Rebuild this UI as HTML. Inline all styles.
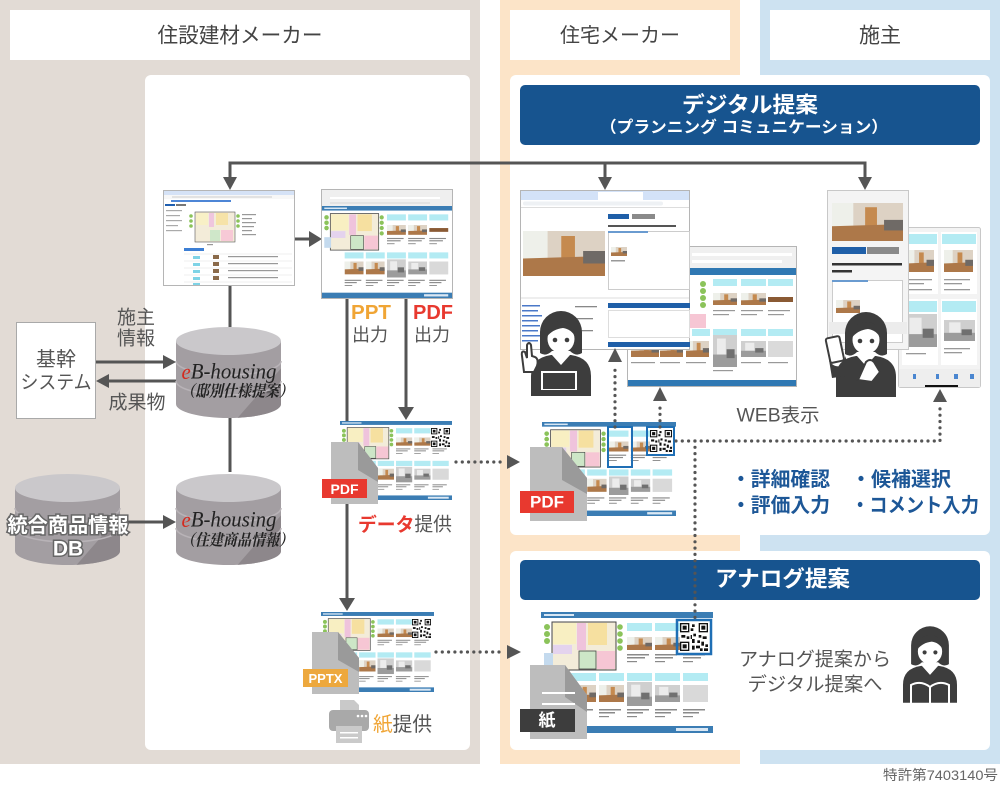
<!DOCTYPE html>
<html><head><meta charset="utf-8">
<style>
html,body{margin:0;padding:0;background:#fff;}
body{width:1000px;height:785px;overflow:hidden;}
svg{display:block;}
.t{font-family:"Liberation Sans","Noto Sans CJK JP",sans-serif;}
.s{font-family:"Liberation Serif","Noto Serif CJK SC",serif;font-style:italic;}
</style></head><body>
<svg width="1000" height="785" viewBox="0 0 1000 785" xmlns="http://www.w3.org/2000/svg">
<defs>
<symbol id="photo" viewBox="0 0 30 18" preserveAspectRatio="none">
<rect width="30" height="18" fill="#ddd2c4"/>
<rect x="0" y="0" width="9" height="11" fill="#eef0ea"/>
<rect x="14" y="2" width="5" height="9" fill="#c58a4f"/>
<polygon points="0,11 30,10 30,18 0,18" fill="#ad7849"/>
<rect x="22" y="8" width="8" height="5" fill="#6f6a66"/>
</symbol>
<symbol id="photoG" viewBox="0 0 30 18" preserveAspectRatio="none">
<rect width="30" height="18" fill="#cfcfcf"/>
<rect x="5" y="2" width="11" height="9" fill="#ececec"/>
<rect x="0" y="11" width="30" height="7" fill="#9c9c9c"/>
<rect x="17" y="8" width="10" height="5" fill="#707070"/>
</symbol>
<symbol id="qr" viewBox="0 0 21 21">
<rect width="21" height="21" fill="#fff"/>
<g fill="#111">
<rect x="0" y="0" width="7" height="7"/><rect x="14" y="0" width="7" height="7"/><rect x="0" y="14" width="7" height="7"/>
</g>
<g fill="#fff"><rect x="1" y="1" width="5" height="5"/><rect x="15" y="1" width="5" height="5"/><rect x="1" y="15" width="5" height="5"/></g>
<g fill="#111">
<rect x="2" y="2" width="3" height="3"/><rect x="16" y="2" width="3" height="3"/><rect x="2" y="16" width="3" height="3"/>
<rect x="9" y="1" width="2" height="2"/><rect x="8" y="4" width="2" height="2"/><rect x="10" y="8" width="2" height="2"/>
<rect x="14" y="9" width="2" height="2"/><rect x="17" y="10" width="3" height="2"/><rect x="9" y="12" width="2" height="3"/>
<rect x="13" y="13" width="2" height="2"/><rect x="16" y="14" width="2" height="3"/><rect x="19" y="16" width="2" height="2"/>
<rect x="12" y="17" width="3" height="2"/><rect x="15" y="19" width="2" height="2"/><rect x="18" y="19" width="3" height="2"/>
<rect x="8" y="9" width="1" height="3"/><rect x="1" y="9" width="3" height="2"/><rect x="5" y="10" width="2" height="2"/>
<rect x="9" y="17" width="2" height="3"/>
</g>
</symbol>
<symbol id="sheet" viewBox="0 0 172 121" preserveAspectRatio="none">
<rect width="172" height="121" fill="#fff"/>
<rect width="172" height="6" fill="#3b7db4"/>
<rect x="3" y="2" width="30" height="2" fill="#d8e7f4"/>
<rect x="11" y="10" width="64" height="48" fill="#f3ecd9" stroke="#444" stroke-width="1"/>
<rect x="12" y="11" width="23" height="21" fill="#f8efc2"/>
<rect x="36" y="11" width="9" height="27" fill="#efc3dc"/>
<rect x="47" y="11" width="19" height="22" fill="#f6e0a0"/>
<rect x="12" y="33" width="19" height="9" fill="#e4d3ee"/>
<rect x="38" y="39" width="17" height="18" fill="#cde6c7" stroke="#444" stroke-width=".8"/>
<rect x="56" y="39" width="18" height="18" fill="#f6c6d4"/>
<rect x="3" y="41" width="9" height="14" fill="#c4daee"/>
<g fill="#8bc35a"><circle cx="6" cy="15" r="3"/><circle cx="6" cy="22" r="3"/><circle cx="6" cy="29" r="3"/><circle cx="79" cy="15" r="2.8"/><circle cx="79" cy="22" r="2.8"/><circle cx="79" cy="29" r="2.8"/><circle cx="79" cy="36" r="2.8"/></g>
<g fill="#b3ebf3"><rect x="86" y="11" width="25" height="8"/><rect x="114" y="11" width="25" height="8"/><rect x="142" y="11" width="25" height="8"/>
<rect x="30" y="61" width="25" height="8"/><rect x="58" y="61" width="25" height="8"/><rect x="86" y="61" width="25" height="8"/><rect x="114" y="61" width="25" height="8"/><rect x="142" y="61" width="25" height="8"/></g>
<use href="#photo" x="86" y="25" width="25" height="13"/>
<use href="#photo" x="114" y="25" width="25" height="13"/>
<rect x="142" y="29" width="25" height="5" fill="#8a5a34"/>
<use href="#photo" x="30" y="73" width="25" height="17"/>
<use href="#photo" x="58" y="73" width="25" height="17"/>
<use href="#photoG" x="86" y="70" width="25" height="24"/>
<use href="#photoG" x="114" y="73" width="25" height="17"/>
<rect x="142" y="73" width="25" height="17" fill="#d9d9d9"/>
<g fill="#8a8a8a">
<rect x="86" y="42" width="22" height="1.5"/><rect x="86" y="45" width="18" height="1.5"/><rect x="86" y="49" width="10" height="1.2"/>
<rect x="114" y="42" width="22" height="1.5"/><rect x="114" y="45" width="18" height="1.5"/><rect x="114" y="49" width="10" height="1.2"/>
<rect x="142" y="42" width="22" height="1.5"/><rect x="142" y="45" width="18" height="1.5"/><rect x="142" y="49" width="10" height="1.2"/>
<rect x="30" y="97" width="22" height="1.5"/><rect x="30" y="100" width="16" height="1.5"/><rect x="30" y="104" width="10" height="1.2"/>
<rect x="58" y="97" width="22" height="1.5"/><rect x="58" y="100" width="16" height="1.5"/><rect x="58" y="104" width="10" height="1.2"/>
<rect x="86" y="97" width="22" height="1.5"/><rect x="86" y="100" width="16" height="1.5"/><rect x="86" y="104" width="10" height="1.2"/>
<rect x="114" y="97" width="22" height="1.5"/><rect x="114" y="100" width="16" height="1.5"/><rect x="114" y="104" width="10" height="1.2"/>
<rect x="142" y="97" width="22" height="1.5"/><rect x="142" y="100" width="16" height="1.5"/><rect x="142" y="104" width="10" height="1.2"/>
</g>
<rect y="114" width="172" height="7" fill="#3b7db4"/>
<rect x="135" y="116" width="32" height="3" fill="#dbe8f4"/>
</symbol>
<clipPath id="cb"><path d="M0,14 L0,77 A52.5,14 0 0 0 105,77 L105,14 Z"/></clipPath>
<symbol id="cyl" viewBox="0 0 105 91" overflow="visible">
<path d="M0,14 L0,77 A52.5,14 0 0 0 105,77 L105,14 Z" fill="#a39ea2"/>
<polygon points="58,95 108,38 108,95" fill="#8d878b" clip-path="url(#cb)"/>
<path d="M0,34 A52.5,14 0 0 0 105,34" fill="none" stroke="#b8b3b7" stroke-width="1.5"/>
<path d="M0,54 A52.5,14 0 0 0 105,54" fill="none" stroke="#b8b3b7" stroke-width="1.5"/>
<ellipse cx="52.5" cy="14" rx="52.5" ry="14" fill="#cac8cb"/>
</symbol>
<g id="pers">
<path d="M-30,62 L-30,42 Q-30,24 -10,21 L10,21 Q30,24 30,42 L30,62 Z" fill="#3d3d3d"/>
<path d="M-6,15 L6,15 L9,21 L0,31 L-9,21 Z" fill="#fff"/>
<path d="M-21,19 L-21,-2 A21,21 0 0 1 21,-2 L21,19 Q15,23 9,17 L-9,17 Q-15,23 -21,19 Z" fill="#3d3d3d"/>
<ellipse cx="0" cy="5" rx="13.5" ry="14" fill="#fff"/>
<path d="M-14.5,3 Q-13,-13 0,-13 Q13,-13 14.5,3 Q10,-5 2,-6 Q-8,-5 -14.5,3 Z" fill="#3d3d3d"/>
<circle cx="-6" cy="6" r="2.3" fill="#3d3d3d"/><circle cx="6" cy="6" r="2.3" fill="#3d3d3d"/>
</g>
</defs>

<!-- column backgrounds -->
<rect x="0" y="0" width="480" height="764" fill="#e2dbd5"/>
<rect x="500" y="0" width="240" height="764" fill="#fce4c8"/>
<rect x="760" y="0" width="240" height="764" fill="#cde2f1"/>
<rect x="10" y="10" width="460" height="50" fill="#fff"/>
<rect x="510" y="10" width="220" height="50" fill="#fff"/>
<rect x="770" y="10" width="220" height="50" fill="#fff"/>
<rect x="145" y="75" width="325" height="675" rx="6" fill="#fff"/>
<rect x="510" y="75" width="480" height="460" rx="6" fill="#fff"/>
<rect x="510" y="551" width="480" height="199" rx="6" fill="#fff"/>

<text class="t" x="240" y="36" text-anchor="middle" dominant-baseline="central" font-size="21" fill="#444" textLength="165" lengthAdjust="spacingAndGlyphs">住設建材メーカー</text>
<text class="t" x="620" y="36" text-anchor="middle" dominant-baseline="central" font-size="20" fill="#444" textLength="120" lengthAdjust="spacingAndGlyphs">住宅メーカー</text>
<text class="t" x="880" y="36" text-anchor="middle" dominant-baseline="central" font-size="21" fill="#444">施主</text>

<!-- navy headers -->
<rect x="520" y="85" width="460" height="60" rx="5" fill="#17548f"/>
<text class="t" x="750" y="105" text-anchor="middle" dominant-baseline="central" font-size="22" font-weight="bold" fill="#fff" textLength="136" lengthAdjust="spacingAndGlyphs">デジタル提案</text>
<text class="t" x="744" y="128" text-anchor="middle" dominant-baseline="central" font-size="16" font-weight="bold" fill="#fff" textLength="288" lengthAdjust="spacingAndGlyphs">（プランニング コミュニケーション）</text>
<rect x="520" y="560" width="460" height="40" rx="5" fill="#17548f"/>
<text class="t" x="715" y="579" dominant-baseline="central" font-size="22" font-weight="bold" fill="#fff" textLength="135" lengthAdjust="spacingAndGlyphs">アナログ提案</text>

<!-- top connector -->
<g stroke="#555" stroke-width="3" fill="none">
<path d="M230,179 L230,163 L865,163 L865,179"/>
<path d="M605,163 L605,179"/>
<path d="M230,286 L230,327"/>
<path d="M230,418 L230,472"/>
<path d="M295,239 L311,239"/>
<path d="M96,362 L165,362"/>
<path d="M108,381 L176,381"/>
<path d="M120,522 L165,522"/>
<path d="M347,298 L347,599"/>
<path d="M406,298 L406,409"/>
</g>
<g fill="#555">
<polygon points="223,177 230,190 237,177"/>
<polygon points="598,177 605,190 612,177"/>
<polygon points="858,177 865,190 872,177"/>
<polygon points="309,231 322,239 309,247"/>
<polygon points="163,355 176,362 163,369"/>
<polygon points="109,374 96,381 109,388"/>
<polygon points="163,515 176,522 163,529"/>
<polygon points="339,598 347,611 355,598"/>
<polygon points="398,407 406,420 414,407"/>
</g>

<!-- SS1 -->
<g>
<rect x="163.5" y="190.5" width="131" height="95" fill="#fff" stroke="#b5b5b5"/>
<rect x="164" y="191" width="130" height="4" fill="#d5e2f6"/>
<rect x="164" y="195" width="130" height="4" fill="#f7f7f7"/>
<rect x="172" y="196" width="100" height="2" fill="#e2e2e2"/>
<rect x="171" y="200" width="60" height="2" fill="#4d86d6"/>
<rect x="165" y="204" width="10" height="2" fill="#1f5fb0"/><rect x="176" y="204" width="10" height="2" fill="#777"/>
<g fill="#aaa"><rect x="166" y="210" width="16" height="1.2"/><rect x="166" y="215" width="14" height="1.2"/><rect x="166" y="220" width="16" height="1.2"/><rect x="166" y="225" width="12" height="1.2"/><rect x="166" y="230" width="16" height="1.2"/></g>
<rect x="195" y="212" width="40" height="30" fill="#f3ecd9" stroke="#555" stroke-width=".6"/>
<rect x="196" y="213" width="12" height="12" fill="#f8f0c6"/>
<rect x="209" y="213" width="5" height="14" fill="#efc6de"/>
<rect x="216" y="213" width="12" height="12" fill="#f6e3a8"/>
<rect x="210" y="230" width="10" height="11" fill="#cfe7c9"/>
<rect x="221" y="230" width="12" height="11" fill="#f7c9d6"/>
<g fill="#8bc35a"><circle cx="191" cy="216" r="1.8"/><circle cx="191" cy="221" r="1.8"/><circle cx="191" cy="226" r="1.8"/><circle cx="238" cy="216" r="1.8"/><circle cx="238" cy="221" r="1.8"/><circle cx="238" cy="226" r="1.8"/></g>
<g fill="#999"><rect x="242" y="214" width="14" height="1.2"/><rect x="242" y="218" width="10" height="1.2"/><rect x="242" y="222" width="14" height="1.2"/><rect x="242" y="226" width="12" height="1.2"/><rect x="242" y="230" width="10" height="1.2"/><rect x="242" y="234" width="14" height="1.2"/><rect x="207" y="244" width="6" height="1.2"/></g>
<rect x="184" y="248" width="20" height="3" fill="#3d7fd4"/>
<g stroke="#e0e0e0" stroke-width=".6"><line x1="184" y1="254" x2="292" y2="254"/><line x1="184" y1="261" x2="292" y2="261"/><line x1="184" y1="268" x2="292" y2="268"/><line x1="184" y1="275" x2="292" y2="275"/><line x1="184" y1="282" x2="292" y2="282"/></g>
<g fill="#7fd3e6"><rect x="193" y="256" width="7" height="3"/><rect x="193" y="263" width="7" height="3"/><rect x="193" y="270" width="7" height="3"/><rect x="193" y="277" width="7" height="3"/><rect x="193" y="283" width="7" height="2"/></g>
<g fill="#8a6a4a"><rect x="213" y="255" width="6" height="4"/><rect x="213" y="262" width="6" height="4"/><rect x="213" y="269" width="6" height="4"/><rect x="213" y="276" width="6" height="4"/></g>
<g fill="#999"><rect x="228" y="256" width="50" height="1.2"/><rect x="228" y="263" width="50" height="1.2"/><rect x="228" y="270" width="50" height="1.2"/><rect x="228" y="277" width="50" height="1.2"/></g>
</g>

<!-- SS2 -->
<rect x="321.5" y="189.5" width="131" height="109" fill="#fff" stroke="#b5b5b5"/>
<rect x="322" y="190" width="130" height="17" fill="#efefef"/>
<rect x="330" y="197" width="110" height="2" fill="#fff"/>
<rect x="330" y="202" width="100" height="2" fill="#e2e2e2"/>
<use href="#sheet" x="322" y="206" width="130" height="92"/>

<!-- cylinders -->
<use href="#cyl" x="176" y="327" width="105" height="91"/>
<use href="#cyl" x="176" y="472" width="105" height="95"/>
<use href="#cyl" x="15" y="472" width="105" height="95"/>
<text class="s" x="229" y="371" text-anchor="middle" dominant-baseline="central" font-size="22" fill="#222" textLength="95" lengthAdjust="spacingAndGlyphs"><tspan fill="#d42a1f">e</tspan>B-housing</text>
<text class="s" x="237" y="392" text-anchor="middle" dominant-baseline="central" font-size="16" font-weight="bold" fill="#222" textLength="112" lengthAdjust="spacingAndGlyphs">（邸別仕様提案）</text>
<text class="s" x="229" y="519" text-anchor="middle" dominant-baseline="central" font-size="22" fill="#222" textLength="95" lengthAdjust="spacingAndGlyphs"><tspan fill="#d42a1f">e</tspan>B-housing</text>
<text class="s" x="237" y="541" text-anchor="middle" dominant-baseline="central" font-size="16" font-weight="bold" fill="#222" textLength="112" lengthAdjust="spacingAndGlyphs">（住建商品情報）</text>
<text class="t" x="68" y="526" text-anchor="middle" dominant-baseline="central" font-size="20" font-weight="bold" fill="#fff" stroke="#666" stroke-width="3" paint-order="stroke" textLength="121" lengthAdjust="spacingAndGlyphs">統合商品情報</text>
<text class="t" x="68" y="549" text-anchor="middle" dominant-baseline="central" font-size="21" font-weight="bold" fill="#fff" stroke="#666" stroke-width="3" paint-order="stroke">DB</text>

<!-- 基幹 box -->
<rect x="16.5" y="322.5" width="79" height="96" fill="#fff" stroke="#a9a9a9"/>
<text class="t" x="56" y="360" text-anchor="middle" dominant-baseline="central" font-size="20" fill="#555">基幹</text>
<text class="t" x="56" y="383" text-anchor="middle" dominant-baseline="central" font-size="19" fill="#555" textLength="71" lengthAdjust="spacingAndGlyphs">システム</text>
<text class="t" x="136" y="318" text-anchor="middle" dominant-baseline="central" font-size="19" fill="#555">施主</text>
<text class="t" x="136" y="339" text-anchor="middle" dominant-baseline="central" font-size="19" fill="#555">情報</text>
<text class="t" x="137" y="403" text-anchor="middle" dominant-baseline="central" font-size="19" fill="#555" textLength="57" lengthAdjust="spacingAndGlyphs">成果物</text>

<!-- PPT/PDF labels -->
<text class="t" x="371" y="313" text-anchor="middle" dominant-baseline="central" font-size="20" font-weight="bold" fill="#f0a535" textLength="40" lengthAdjust="spacingAndGlyphs">PPT</text>
<text class="t" x="370" y="335" text-anchor="middle" dominant-baseline="central" font-size="18" fill="#555">出力</text>
<text class="t" x="433" y="313" text-anchor="middle" dominant-baseline="central" font-size="20" font-weight="bold" fill="#e8392f" textLength="40" lengthAdjust="spacingAndGlyphs">PDF</text>
<text class="t" x="432" y="335" text-anchor="middle" dominant-baseline="central" font-size="18" fill="#555">出力</text>

<!-- left PDF sheet -->
<use href="#sheet" x="340" y="421" width="112" height="79"/>
<use href="#qr" x="431" y="428" width="19" height="19"/>
<polygon points="331,442 358,442 378,468 378,504 331,504" fill="#bdbdbd"/>
<polygon points="358,442 358,470 378,482 378,468" fill="#9a9a9a"/>
<rect x="322" y="479" width="45" height="19" fill="#e8392f"/>
<text class="t" x="344.5" y="489" text-anchor="middle" dominant-baseline="central" font-size="14" font-weight="bold" fill="#fff">PDF</text>
<text class="t" x="358" y="525" dominant-baseline="central" font-size="19" fill="#555" textLength="94" lengthAdjust="spacingAndGlyphs"><tspan fill="#e8392f" font-weight="bold">データ</tspan>提供</text>

<!-- PPTX sheet -->
<use href="#sheet" x="321" y="612" width="113" height="80"/>
<use href="#qr" x="412" y="619" width="19" height="19"/>
<polygon points="312,632 338,632 359,658 359,694 312,694" fill="#bdbdbd"/>
<polygon points="338,632 338,660 359,672 359,658" fill="#9a9a9a"/>
<rect x="303" y="669" width="45" height="18" fill="#eda83d"/>
<text class="t" x="325.5" y="678.5" text-anchor="middle" dominant-baseline="central" font-size="13" font-weight="bold" fill="#fff">PPTX</text>
<!-- printer -->
<polygon points="340,700 354,700 359,705 359,714 340,714" fill="#c9c9c9"/>
<rect x="329" y="710" width="40" height="21" rx="4" fill="#a9a9a9"/>
<g fill="#fff"><circle cx="358" cy="716" r="1.3"/><circle cx="362" cy="716" r="1.3"/><circle cx="366" cy="716" r="1.3"/></g>
<rect x="336" y="726" width="26" height="17" fill="#cacaca"/>
<rect x="340" y="732" width="18" height="1.5" fill="#fff"/><rect x="340" y="737" width="18" height="1.5" fill="#fff"/>
<text class="t" x="373" y="725" dominant-baseline="central" font-size="20" fill="#555" textLength="59" lengthAdjust="spacingAndGlyphs"><tspan fill="#f0a535">紙</tspan>提供</text>

<!-- DB2 -->
<rect x="627.5" y="246.5" width="169" height="140" fill="#fff" stroke="#b5b5b5"/>
<rect x="628" y="247" width="168" height="21" fill="#f0f0f0"/>
<rect x="692" y="253" width="100" height="3" fill="#fff"/>
<rect x="692" y="260" width="90" height="3" fill="#fff"/>
<rect x="628" y="268" width="168" height="7" fill="#2f78b3"/>
<g fill="#8bc35a"><circle cx="703" cy="284" r="3"/><circle cx="703" cy="291" r="3"/><circle cx="703" cy="298" r="3"/><circle cx="703" cy="305" r="3"/></g>
<rect x="690" y="314" width="16" height="14" fill="#f6c6d4"/>
<g fill="#b3ebf3"><rect x="713" y="279" width="24" height="7"/><rect x="741" y="279" width="25" height="7"/><rect x="768" y="279" width="25" height="7"/>
<rect x="692" y="329" width="18" height="7"/><rect x="713" y="329" width="24" height="7"/><rect x="741" y="329" width="25" height="7"/><rect x="768" y="329" width="25" height="7"/></g>
<use href="#photo" x="713" y="293" width="24" height="12"/>
<use href="#photo" x="741" y="293" width="25" height="12"/>
<rect x="768" y="297" width="25" height="5" fill="#8a5a34"/>
<use href="#photo" x="631" y="341" width="28" height="16"/>
<use href="#photo" x="660" y="341" width="23" height="16"/>
<use href="#photo" x="686" y="341" width="23" height="16"/>
<use href="#photoG" x="713" y="335" width="24" height="32"/>
<use href="#photoG" x="741" y="341" width="25" height="16"/>
<rect x="768" y="341" width="25" height="16" fill="#dadada"/>
<g fill="#999"><rect x="713" y="310" width="22" height="1.2"/><rect x="741" y="310" width="22" height="1.2"/><rect x="768" y="310" width="22" height="1.2"/><rect x="713" y="314" width="16" height="1.2"/><rect x="741" y="314" width="16" height="1.2"/><rect x="768" y="314" width="16" height="1.2"/>
<rect x="631" y="362" width="24" height="1.2"/><rect x="660" y="362" width="20" height="1.2"/><rect x="686" y="362" width="20" height="1.2"/><rect x="741" y="362" width="20" height="1.2"/><rect x="768" y="362" width="20" height="1.2"/><rect x="713" y="370" width="20" height="1.2"/></g>
<rect x="628" y="380" width="168" height="6" fill="#2f78b3"/>

<!-- DB1 -->
<rect x="520.5" y="190.5" width="169" height="159" fill="#fff" stroke="#b5b5b5"/>
<rect x="521" y="191" width="168" height="9" fill="#d3e2f8"/>
<rect x="598" y="192" width="45" height="8" fill="#fff"/>
<rect x="523" y="201.5" width="140" height="4" rx="2" fill="#eef1f4"/>
<line x1="521" y1="207.5" x2="689" y2="207.5" stroke="#ddd"/>
<use href="#photo" x="523" y="231" width="82" height="45"/>
<rect x="608" y="214" width="21" height="5" fill="#1f5fa8"/>
<rect x="632" y="214" width="23" height="5" fill="#8a8a8a"/>
<rect x="608" y="225" width="68" height="2" fill="#555"/>
<rect x="608.5" y="231.5" width="81" height="58" fill="none" stroke="#ccc"/>
<rect x="608" y="231" width="40" height="2" fill="#6a9bd0"/>
<use href="#photo" x="611" y="247" width="16" height="9"/>
<rect x="611" y="260" width="14" height="1.5" fill="#999"/>
<line x1="521" y1="298" x2="689" y2="298" stroke="#ddd"/>
<g fill="#4a78c8"><rect x="522" y="305" width="18" height="1.5"/><rect x="522" y="310" width="16" height="1.5"/><rect x="522" y="315" width="20" height="1.5"/><rect x="522" y="320" width="16" height="1.5"/><rect x="522" y="325" width="18" height="1.5"/><rect x="522" y="330" width="16" height="1.5"/><rect x="522" y="335" width="20" height="1.5"/><rect x="522" y="340" width="16" height="1.5"/></g>
<g fill="#888"><rect x="575" y="306" width="22" height="1.3"/><rect x="575" y="318" width="18" height="1.3"/><rect x="575" y="330" width="18" height="1.3"/></g>
<rect x="608" y="303" width="82" height="5" fill="#1f5fa8"/>
<rect x="608.5" y="310.5" width="81" height="27" fill="none" stroke="#ddd"/>
<rect x="608" y="342" width="82" height="5" fill="#1f5fa8"/>

<!-- P2 -->
<rect x="898.5" y="227.5" width="82" height="160" rx="2" fill="#f3f3f3" stroke="#c8c8c8"/>
<rect x="902" y="232" width="36" height="62" fill="#fff"/>
<rect x="941" y="232" width="36" height="62" fill="#fff"/>
<rect x="903" y="234" width="34" height="10" fill="#b3ebf3"/>
<rect x="942" y="234" width="34" height="10" fill="#b3ebf3"/>
<use href="#photo" x="906" y="250" width="28" height="22"/>
<use href="#photo" x="944" y="250" width="29" height="22"/>
<g fill="#999"><rect x="906" y="279" width="26" height="1.3"/><rect x="906" y="283" width="18" height="1.3"/><rect x="906" y="289" width="26" height="1.3"/><rect x="944" y="279" width="26" height="1.3"/><rect x="944" y="283" width="18" height="1.3"/><rect x="944" y="289" width="26" height="1.3"/></g>
<rect x="902" y="299" width="36" height="66" fill="#fff"/>
<rect x="941" y="299" width="36" height="66" fill="#fff"/>
<rect x="903" y="301" width="34" height="11" fill="#b3ebf3"/>
<rect x="942" y="301" width="34" height="11" fill="#b3ebf3"/>
<use href="#photoG" x="904" y="314" width="33" height="33"/>
<use href="#photoG" x="944" y="320" width="31" height="21"/>
<g fill="#999"><rect x="944" y="348" width="26" height="1.3"/><rect x="944" y="352" width="18" height="1.3"/><rect x="906" y="353" width="20" height="1.3"/></g>
<rect x="899" y="369" width="81" height="18" fill="#eeeeee"/>
<g fill="#4a86d0"><rect x="913" y="374" width="3" height="5"/><rect x="936" y="374" width="3" height="5"/><rect x="954" y="374" width="4" height="5"/><rect x="970" y="374" width="4" height="5"/></g>
<rect x="925" y="385" width="33" height="2" fill="#111"/>

<!-- P1 -->
<rect x="827.5" y="190.5" width="81" height="159" fill="#f4f4f4" stroke="#c8c8c8"/>
<use href="#photo" x="832" y="203" width="71" height="38"/>
<rect x="832" y="247" width="34" height="7" fill="#1f5fa8"/>
<rect x="867" y="247" width="32" height="7" fill="#8a8a8a"/>
<rect x="832" y="263" width="70" height="2.5" fill="#333"/>
<rect x="832" y="270" width="20" height="2.5" fill="#333"/>
<rect x="832.5" y="280.5" width="70" height="62" fill="#fff" stroke="#ccc"/>
<rect x="832" y="280" width="36" height="2" fill="#6a9bd0"/>
<use href="#photo" x="836" y="300" width="24" height="13"/>
<rect x="829" y="322" width="78" height="12" fill="#ececec"/>

<!-- persons -->
<use href="#pers" transform="translate(561,334)"/>
<rect x="541" y="371" width="36" height="20" fill="#fff"/>
<rect x="543" y="373" width="32" height="16" fill="#3d3d3d"/>
<rect x="538" y="390" width="42" height="5" fill="#3d3d3d"/>
<path d="M524,372 L522,356 Q521,350 525,352 L527,358 L527,345 Q529,341 531,345 L532,356 L535,357 Q539,359 537,366 L534,372 Z" fill="#fff" stroke="#3d3d3d" stroke-width="2"/>

<use href="#pers" transform="translate(866,335)"/>
<rect x="828" y="337" width="14" height="25" rx="2" fill="#fff" stroke="#3d3d3d" stroke-width="2" transform="rotate(-12 835 350)"/>
<path d="M829,360 Q833,368 842,366 L846,356 L846,376 L832,378 Z" fill="#3d3d3d"/>
<path d="M858,380 L866,362 Q870,358 874,362 L880,372 L872,382 Z" fill="#fff" stroke="#3d3d3d" stroke-width="2"/>

<use href="#pers" transform="translate(930,647) scale(0.9)"/>
<path d="M911,703 L911,685 Q921,680 930,687 Q939,680 949,685 L949,703" fill="none" stroke="#fff" stroke-width="2"/>
<line x1="930" y1="687" x2="930" y2="703" stroke="#fff" stroke-width="2"/>

<!-- digital PDF sheet -->
<use href="#sheet" x="542" y="422" width="134" height="94"/>
<use href="#qr" x="650" y="430" width="22" height="22"/>
<rect x="608" y="427" width="24" height="40" fill="none" stroke="#1f6fb5" stroke-width="2"/>
<rect x="647" y="427" width="27" height="28" fill="none" stroke="#1f6fb5" stroke-width="2"/>
<polygon points="530,447 562,447 587,478 587,521 530,521" fill="#bdbdbd"/>
<polygon points="562,447 562,480 587,494 587,478" fill="#9a9a9a"/>
<rect x="520" y="491" width="54" height="22" fill="#e8392f"/>
<text class="t" x="547" y="502" text-anchor="middle" dominant-baseline="central" font-size="17" font-weight="bold" fill="#fff">PDF</text>

<!-- analog sheet -->
<use href="#sheet" x="541" y="612" width="172" height="121"/>
<use href="#qr" x="680" y="623" width="28" height="28"/>
<rect x="677" y="620" width="34" height="34" fill="none" stroke="#1f6fb5" stroke-width="2.5"/>
<polygon points="530,665 565,665 587,695 587,739 530,739" fill="#bdbdbd"/>
<polygon points="565,665 565,697 587,712 587,695" fill="#9a9a9a"/>
<rect x="542" y="692" width="33" height="2" fill="#fff"/>
<rect x="542" y="703" width="33" height="2" fill="#fff"/>
<rect x="520" y="709" width="55" height="23" fill="#3d3d3d"/>
<text class="t" x="547" y="720.5" text-anchor="middle" dominant-baseline="central" font-size="17" font-weight="bold" fill="#fff">紙</text>

<!-- dotted connectors -->
<g stroke="#555" stroke-width="3.2" stroke-linecap="round" stroke-dasharray="0 6.3" fill="none">
<path d="M456,462 L504,462"/>
<path d="M436,652 L504,652"/>
<path d="M615,427 L615,366"/>
<path d="M660,427 L660,404"/>
<path d="M676,441 L940,441 L940,404"/>
<path d="M695,441 L695,618"/>
</g>
<g fill="#555">
<polygon points="507,455 520,462 507,469"/>
<polygon points="507,645 521,652 507,659"/>
<polygon points="608,362 615,348 622,362"/>
<polygon points="653,401 660,387 667,401"/>
<polygon points="933,402 940,389 947,402"/>
</g>

<!-- right texts -->
<text class="t" x="778" y="416" text-anchor="middle" dominant-baseline="central" font-size="19" fill="#555" textLength="83" lengthAdjust="spacingAndGlyphs">WEB表示</text>
<g class="t" font-size="20" font-weight="bold" fill="#1d5797">
<text x="731" y="480" dominant-baseline="central" textLength="99" lengthAdjust="spacingAndGlyphs">・詳細確認</text>
<text x="731" y="506" dominant-baseline="central" textLength="99" lengthAdjust="spacingAndGlyphs">・評価入力</text>
<text x="851" y="480" dominant-baseline="central" textLength="100" lengthAdjust="spacingAndGlyphs">・候補選択</text>
<text x="851" y="506" dominant-baseline="central" textLength="128" lengthAdjust="spacingAndGlyphs">・コメント入力</text>
</g>
<text class="t" x="815" y="660" text-anchor="middle" dominant-baseline="central" font-size="19" fill="#555" textLength="152" lengthAdjust="spacingAndGlyphs">アナログ提案から</text>
<text class="t" x="815" y="685" text-anchor="middle" dominant-baseline="central" font-size="19" fill="#555" textLength="135" lengthAdjust="spacingAndGlyphs">デジタル提案へ</text>
<text class="t" x="998" y="775" text-anchor="end" dominant-baseline="central" font-size="14" fill="#666" textLength="115" lengthAdjust="spacingAndGlyphs">特許第7403140号</text>
</svg>
</body></html>
